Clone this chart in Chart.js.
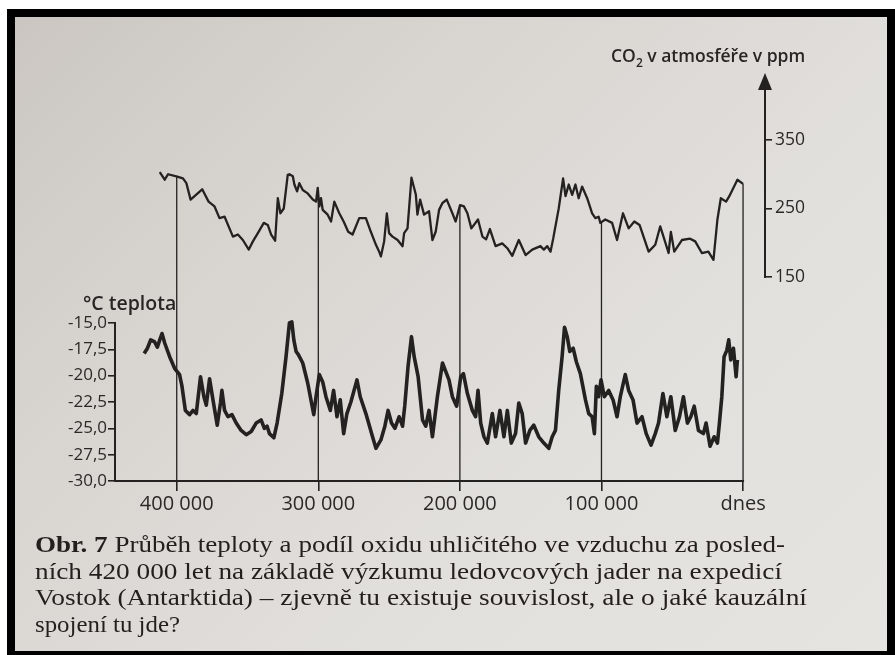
<!DOCTYPE html>
<html>
<head>
<meta charset="utf-8">
<script src="https://cdn.jsdelivr.net/npm/chart.js@4.4.0/dist/chart.umd.min.js"></script>
<style>
html,body{margin:0;padding:0;background:#fff;}
#page{position:relative;width:895px;height:655px;overflow:hidden;background:#fff;}
#paper{position:absolute;left:7px;top:9px;width:888px;height:646px;box-sizing:border-box;border:8px solid #000;border-right-width:8px;border-bottom-width:4px;
  background:linear-gradient(135deg,#cbc6c2 0%,#d8d5d1 30%,#e2e0dc 65%,#e6e4e0 100%);}
#c{position:absolute;left:0;top:0;}
.t{position:absolute;color:#282624;white-space:nowrap;}
.ax{font-family:'Open Sans',sans-serif;font-weight:600;}
.cap{font-family:'Liberation Serif',serif;font-size:24px;line-height:24px;transform-origin:0 0;color:#221f1d;}
</style>
</head>
<body>
<div id="page">
  <div id="paper"></div>
  <canvas id="c" width="895" height="655"></canvas>
  <div class="t ax" style="left:83px;top:289px;font-size:19.5px;">°C teplota</div>
  <div class="t ax" style="left:611px;top:43px;font-size:17.5px;">CO<sub style="font-size:12px;">2</sub> v atmosféře v ppm</div>
  <div class="t cap" data-w="750" style="left:35px;top:532px;"><b>Obr. 7</b> Průběh teploty a podíl oxidu uhličitého ve vzduchu za posled-</div>
  <div class="t cap" data-w="747" style="left:35px;top:559px;">ních 420 000 let na základě výzkumu ledovcových jader na expedicí</div>
  <div class="t cap" data-w="772" style="left:35px;top:585px;">Vostok (Antarktida) – zjevně tu existuje souvislost, ale o jaké kauzální</div>
  <div class="t cap" data-w="145" style="left:35px;top:612px;">spojení tu jde?</div>
</div>
<script>
// ---- data (years before present) ----
const co2Years = [412000,408500,406100,400300,395600,393200,390200,387400,382000,377500,373300,369800,366200,360300,356800,353300,349100,346200,342700,338500,335700,333300,330500,328600,326800,324400,321600,320400,318000,316900,315000,313400,311000,307500,303900,301600,300400,299300,298100,296900,293400,291000,288700,285200,282100,278900,275800,271100,266400,262900,259300,257000,255800,253500,251600,250000,247600,244000,240500,239400,237000,234200,231100,230000,228100,225300,221800,219400,217100,214700,212300,209300,205300,203000,199900,197100,194700,191900,187200,184100,181500,178800,174800,170100,166500,163000,158400,153600,148900,143100,140700,138300,136000,134100,130200,127100,125400,123100,120700,118400,116100,113700,110100,106600,104300,102000,100800,97300,92500,89000,84800,80800,76800,73100,66700,62000,58500,56200,52600,51000,48600,43200,37400,33800,29100,24500,20900,18100,15700,12000,9700,4000,0];
const co2Values = [303,292,300,297,294,287,263,268,278,260,253,236,238,209,212,204,190,202,214,229,226,212,203,265,243,250,299,300,297,285,275,287,277,272,263,260,280,253,265,248,241,231,260,243,231,216,212,236,236,216,197,187,180,202,243,214,209,204,195,214,221,295,270,241,263,241,246,204,216,248,258,263,243,231,255,253,243,221,234,209,205,220,195,199,192,181,204,182,190,195,190,195,187,206,250,294,268,285,270,285,265,282,265,243,236,238,229,234,229,204,243,221,231,226,187,197,224,209,185,216,187,204,206,202,185,187,175,234,265,260,268,292,286];

const tempYears = [423000,420700,418400,415600,413700,412000,410400,408500,405000,401500,398000,396300,393900,390900,388500,386200,383200,380800,379100,376800,374400,371400,369100,368100,366200,363800,361000,358000,354500,350900,347400,343900,340400,338100,336200,334500,331400,329100,325800,322800,320400,318700,317300,315700,314100,311000,307500,303200,301600,299300,296900,294600,291500,289200,286800,284500,282100,279800,277000,272700,270400,266400,261700,259300,255800,253000,250700,248300,245900,242900,240500,238900,236600,234200,232300,229500,226400,224100,221800,219400,215900,212300,207700,205300,202300,199400,197500,194700,191200,188900,187200,185300,183000,180600,177100,174800,171700,168900,166500,163700,160700,158400,156000,153600,150600,147800,144300,140700,137200,134800,132500,130200,127800,126100,124200,122400,120000,117700,114900,111300,109000,106600,105000,103600,102000,100300,98000,94900,91800,89000,86700,83200,80800,77700,74900,71400,68400,65000,62000,59700,56600,53800,51000,47900,44900,42100,39300,36900,34500,31500,28000,26100,23300,20400,18100,16700,15000,13400,11500,10100,8700,6800,4900,4000];
const tempValues = [-17.9,-17.4,-16.6,-16.8,-17.3,-16.6,-16.0,-16.9,-18.2,-19.3,-19.9,-21.0,-23.3,-23.7,-23.3,-23.6,-20.1,-22.0,-22.8,-20.3,-22.3,-24.7,-22.6,-21.4,-23.3,-23.9,-23.7,-24.5,-25.2,-25.6,-25.3,-24.5,-24.2,-25.0,-24.8,-25.5,-25.9,-24.5,-21.7,-18.2,-15.0,-14.9,-16.6,-17.7,-18.0,-18.8,-20.7,-23.7,-22.0,-19.9,-20.6,-22.0,-23.3,-21.4,-23.9,-22.3,-25.5,-23.6,-22.5,-20.4,-22.0,-23.6,-25.8,-26.9,-26.1,-24.8,-23.3,-24.5,-25.0,-23.9,-24.8,-22.8,-19.1,-16.3,-18.2,-20.1,-24.2,-24.8,-23.3,-25.8,-22.0,-18.8,-20.4,-22.0,-22.9,-20.1,-19.8,-21.7,-23.3,-23.9,-21.4,-24.5,-25.8,-26.4,-23.6,-25.8,-23.3,-25.8,-23.3,-26.4,-25.5,-22.6,-23.6,-26.4,-25.2,-24.7,-25.8,-26.4,-26.9,-25.8,-25.2,-21.4,-18.2,-15.4,-16.3,-17.7,-17.4,-18.7,-19.8,-22.3,-23.6,-23.9,-25.5,-21.0,-22.0,-20.4,-22.0,-21.4,-22.3,-23.9,-22.0,-19.9,-21.4,-22.3,-24.5,-23.9,-25.5,-26.6,-25.5,-24.5,-21.7,-23.9,-22.0,-25.2,-23.9,-22.0,-24.5,-23.9,-22.9,-25.2,-25.5,-24.5,-26.7,-25.8,-26.4,-24.5,-22.0,-18.2,-17.6,-16.6,-18.5,-17.4,-20.1,-18.5];

const xTickValues = [400000,300000,200000,100000,0];
const xTickLabels = ['400 000','300 000','200 000','100 000','dnes'];
const tempTicks = [-30,-27.5,-25,-22.5,-20,-17.5,-15];
const tempTickLabels = ['-30,0','-27,5','-25,0','-22,5','-20,0','-17,5','-15,0'];
const co2Ticks = [150,250,350];
const co2TickLabels = ['150','250','350'];

// ---- styling ----
const INK = '#232221';
const TXT = '#2b2927';

function co2At(year){
  if (year >= co2Years[0]) return co2Values[0];
  for (let i=1;i<co2Years.length;i++){
    if (year >= co2Years[i]){
      const a=co2Years[i-1], b=co2Years[i];
      const f=(a-year)/(a-b);
      return co2Values[i-1] + f*(co2Values[i]-co2Values[i-1]);
    }
  }
  return co2Values[co2Values.length-1];
}

const axesPlugin = {
  id:'axesPlugin',
  afterDraw(chart){
    const ctx = chart.ctx, ca = chart.chartArea;
    const xs = chart.scales.x, ys = chart.scales.y, y2 = chart.scales.y2;
    ctx.save();
    ctx.strokeStyle = INK; ctx.fillStyle = INK;
    ctx.lineCap = 'butt';
    ctx.lineWidth = 2;
    ctx.beginPath();
    ctx.moveTo(ca.left, ca.bottom);
    ctx.lineTo(xs.getPixelForValue(0)+1, ca.bottom);
    ctx.stroke();
    ctx.beginPath();
    ctx.moveTo(ca.left, ys.getPixelForValue(tempTicks[0])+1);
    ctx.lineTo(ca.left, ys.getPixelForValue(tempTicks[tempTicks.length-1])-1);
    ctx.stroke();
    const ax = ca.right;
    ctx.beginPath();
    ctx.moveTo(ax, y2.getPixelForValue(co2Ticks[0])+1);
    ctx.lineTo(ax, ca.top + 14);
    ctx.stroke();
    ctx.beginPath();
    ctx.moveTo(ax, ca.top);
    ctx.lineTo(ax-7, ca.top+17);
    ctx.lineTo(ax+7, ca.top+17);
    ctx.closePath();
    ctx.fill();
    ctx.lineWidth = 1.3;
    xTickValues.forEach(v=>{
      const px = xs.getPixelForValue(v);
      const py = y2.getPixelForValue(co2At(v));
      ctx.beginPath();
      ctx.moveTo(px, py);
      ctx.lineTo(px, ca.bottom);
      ctx.stroke();
    });
    ctx.restore();
  }
};

new Chart(document.getElementById('c'), {
  type:'line',
  data:{
    datasets:[
      {label:'CO2', data: co2Years.map((y,i)=>({x:y, y:co2Values[i]})), yAxisID:'y2',
       borderColor:INK, borderWidth:2.3, pointRadius:0, tension:0, fill:false, borderJoinStyle:'round'},
      {label:'teplota', data: tempYears.map((y,i)=>({x:y, y:tempValues[i]})), yAxisID:'y',
       borderColor:INK, borderWidth:3.6, pointRadius:0, tension:0, fill:false, borderJoinStyle:'round'}
    ]
  },
  options:{
    responsive:false, animation:false,
    layout:{padding:{top:73,left:0,right:0,bottom:0}},
    plugins:{legend:{display:false}, tooltip:{enabled:false}},
    scales:{
      x:{type:'linear', position:'bottom', reverse:true, min:-15500, max:443600,
        afterBuildTicks:s=>{ s.ticks = xTickValues.map(v=>({value:v})); },
        afterFit:s=>{ s.height = 174; },
        ticks:{autoSkip:false, maxRotation:0, minRotation:0, padding:1, color:TXT,
          font:{family:"'Open Sans'", size:20}, callback:(v,i)=>xTickLabels[i]},
        grid:{display:true, drawOnChartArea:false, drawTicks:true, tickLength:10, color:INK, lineWidth:1.6},
        border:{display:false}},
      y:{type:'linear', position:'left', min:-30, max:8.73,
        afterBuildTicks:s=>{ s.ticks = tempTicks.map(v=>({value:v})); },
        afterFit:s=>{ s.width = 115; },
        ticks:{autoSkip:false, padding:1, color:TXT, font:{family:"'Open Sans'", size:17},
          callback:(v,i)=>tempTickLabels[i]},
        grid:{display:true, drawOnChartArea:false, drawTicks:true, tickLength:7, color:INK, lineWidth:1.6},
        border:{display:false}},
      y2:{type:'linear', position:'right', min:-147.8, max:447.8,
        afterBuildTicks:s=>{ s.ticks = co2Ticks.map(v=>({value:v})); },
        afterFit:s=>{ s.width = 130; },
        ticks:{autoSkip:false, padding:3, color:TXT, font:{family:"'Open Sans'", size:17.5},
          callback:(v,i)=>co2TickLabels[i]},
        grid:{display:true, drawOnChartArea:false, drawTicks:true, tickLength:7, color:INK, lineWidth:1.6},
        border:{display:false}}
    }
  },
  plugins:[axesPlugin]
});

// stretch caption lines horizontally to the printed line lengths
function fitCaption(){
  document.querySelectorAll('.cap').forEach(el=>{
    el.style.transform = 'none';
    const w = el.getBoundingClientRect().width;
    const target = parseFloat(el.dataset.w);
    if (w > 0 && target > 0) el.style.transform = 'scaleX(' + (target / w) + ')';
  });
}
fitCaption();
if (document.fonts && document.fonts.ready) document.fonts.ready.then(fitCaption);
</script>
</body>
</html>
